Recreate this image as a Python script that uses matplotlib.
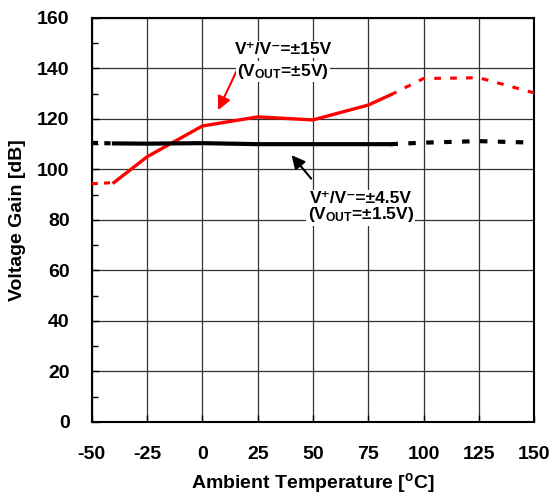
import matplotlib.pyplot as plt
from matplotlib.ticker import MultipleLocator

plt.rcParams['font.family'] = ['Liberation Sans', 'DejaVu Sans']
plt.rcParams['font.weight'] = 'bold'
plt.rcParams['axes.unicode_minus'] = False

# measured gain at +/-15V supply
temp_15_lo = [-50, -40]
gain_15_lo = [94.3, 94.8]
temp_15 = [-40, -25, 0, 25, 50, 75, 85]
gain_15 = [94.8, 105, 117.2, 120.8, 119.6, 125.5, 129.5]
temp_15_hi = [85, 100, 125, 150]
gain_15_hi = [129.5, 136, 136.3, 130.3]

# measured gain at +/-4.5V supply
temp_45_lo = [-50, -40]
gain_45_lo = [110.5, 110.3]
temp_45 = [-40, -25, 0, 25, 50, 75, 85]
gain_45 = [110.3, 110.2, 110.4, 110.0, 110.0, 110.0, 110.0]
temp_45_hi = [85, 100, 125, 150]
gain_45_hi = [110.0, 110.6, 111.2, 110.6]

fig, ax = plt.subplots(figsize=(5.53, 4.97), dpi=100)
fig.subplots_adjust(left=0.166, right=0.966, top=0.964, bottom=0.151)

ax.plot(temp_15_lo, gain_15_lo, color='red', lw=2.2, ls=(0, (2, 2)), zorder=3)
ax.plot(temp_15, gain_15, color='red', lw=2.4, zorder=3)
ax.plot(temp_15_hi, gain_15_hi, color='red', lw=2.2, ls=(0, (2.2, 3)), zorder=3)

ax.plot(temp_45_lo, gain_45_lo, color='black', lw=3, ls=(0, (1.5, 1.5)), zorder=4)
ax.plot(temp_45, gain_45, color='black', lw=3, zorder=4)
ax.plot(temp_45_hi, gain_45_hi, color='black', lw=3, ls=(0, (1.8, 2.5)), zorder=4)

ax.set_xlim(-50, 150)
ax.set_ylim(0, 160)
ax.xaxis.set_major_locator(MultipleLocator(25))
ax.yaxis.set_major_locator(MultipleLocator(20))
ax.yaxis.set_minor_locator(MultipleLocator(10))
ax.grid(True, which='major', color='#333333', lw=0.9)
ax.tick_params(which='both', direction='in', labelsize=14)
ax.tick_params(axis='x', pad=17)
ax.tick_params(axis='y', pad=16)
ax.tick_params(which='major', length=5, width=1)
ax.tick_params(which='minor', length=4, width=1)
for s in ax.spines.values():
    s.set_linewidth(1.5)

ax.set_xlabel('Ambient Temperature [$\\mathregular{^o}$C]', fontsize=14, fontweight='bold', labelpad=6)
ax.set_ylabel('Voltage Gain [dB]', fontsize=14, fontweight='bold', labelpad=8)

box = dict(facecolor='white', edgecolor='none', pad=1)
ax.annotate('', xy=(6.6, 122.5), xytext=(16, 140),
            arrowprops=dict(arrowstyle='-|>', color='red', lw=1.5, mutation_scale=20))
ax.text(36.5, 147.5, 'V\u207a/V\u207b=±15V', ha='center', va='center',
        fontsize=12.5, fontweight='bold', bbox=box, zorder=5)
ax.text(36.5, 138.8, '(V$\\mathregular{_{OUT}}$=±5V)', ha='center', va='center',
        fontsize=12.5, fontweight='bold', bbox=box, zorder=5)

ax.annotate('', xy=(39.5, 106.5), xytext=(50, 95.5),
            arrowprops=dict(arrowstyle='-|>', color='black', lw=1.5, mutation_scale=20))
ax.text(71.5, 88.5, 'V\u207a/V\u207b=±4.5V', ha='center', va='center',
        fontsize=12.5, fontweight='bold', bbox=box, zorder=5)
ax.text(71.5, 82.0, '(V$\\mathregular{_{OUT}}$=±1.5V)', ha='center', va='center',
        fontsize=12.5, fontweight='bold', bbox=box, zorder=5)

fig.savefig('out.png', dpi=100)
